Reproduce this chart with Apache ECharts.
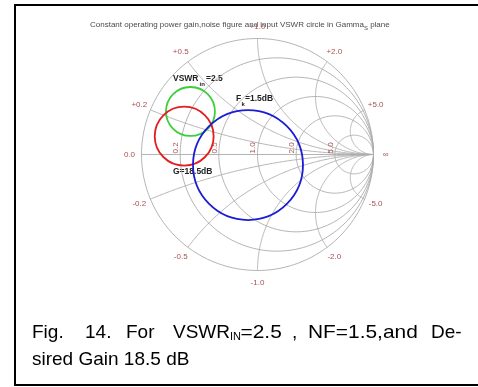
<!DOCTYPE html>
<html><head><meta charset="utf-8">
<script src="https://cdn.jsdelivr.net/npm/echarts@6/dist/echarts.min.js"></script>
<style>html,body{margin:0;padding:0;background:#fff}#c{width:478px;height:387px}</style>
</head><body><div id="c"></div>
<script>
// Smith chart grid values
const resistanceCircles = [0.2, 0.5, 1, 2, 5];
const reactanceArcs = [0.2, 0.5, 1, 2, 5, -0.2, -0.5, -1, -2, -5];
const resistanceTickValues = [0.2, 0.5, 1, 2, 5];
const resistanceTickLabels = ['0.2', '0.5', '1.0', '2.0', '5.0'];
const reactanceTickValues = [0.2, 0.5, 1, 2, 5, -0.2, -0.5, -1, -2, -5];
const reactanceTickLabels = ['+0.2', '+0.5', '+1.0', '+2.0', '+5.0', '-0.2', '-0.5', '-1.0', '-2.0', '-5.0'];
const edgeTickValues = [-1, 1];
const edgeTickLabels = ['0.0', '\u221e'];
// Constant circles in the Gamma_S plane (centre re, centre im, radius)
const circleNames = ['VSWR_in=2.5', 'G=18.5dB', 'F_k=1.5dB'];
const circleCenterRe = [-0.578, -0.632, -0.082];
const circleCenterIm = [0.371, 0.158, -0.091];
const circleRadius = [0.211, 0.254, 0.474];
const circleColors = ['#3ccf3c', '#e11f1f', '#1c1cd2'];

const GRID = '#ababab';
const LABEL = '#a65050';
const SANS = '"Liberation Sans", Arial, sans-serif';

const mctx = document.createElement('canvas').getContext('2d');
function tw(text, font) { mctx.font = font; return mctx.measureText(text).width; }

function resistancePts(r) {
  const c = r / (r + 1), R = 1 / (r + 1), pts = [];
  for (let i = 0; i <= 180; i++) { const t = 2 * Math.PI * i / 180; pts.push([c + R * Math.cos(t), R * Math.sin(t)]); }
  return pts;
}
function reactancePts(x) {
  const a = Math.abs(x), R = 1 / a, pts = [];
  let t0 = Math.atan2((a * a - 1) / (a * (a * a + 1)), -2 / (a * a + 1));
  if (t0 < 0) t0 += 2 * Math.PI;
  const t1 = 1.5 * Math.PI;
  for (let i = 0; i <= 180; i++) {
    const t = t0 + (t1 - t0) * i / 180;
    const py = R + R * Math.sin(t);
    pts.push([1 + R * Math.cos(t), x > 0 ? py : -py]);
  }
  return pts;
}
const gridLines = [];
gridLines.push(resistancePts(0)); // outer circle
resistanceCircles.forEach(r => gridLines.push(resistancePts(r)));
reactanceArcs.forEach(x => gridLines.push(reactancePts(x)));
gridLines.push([[-1, 0], [1, 0]]);

function gammaOfReactance(x) { return [(x * x - 1) / (x * x + 1), 2 * x / (x * x + 1)]; }
const outerLabels = [];
reactanceTickValues.forEach((x, i) => outerLabels.push({ g: gammaOfReactance(x), t: reactanceTickLabels[i] }));
edgeTickValues.forEach((v, i) => outerLabels.push({ g: [v, 0], t: edgeTickLabels[i] }));

// title pieces
const tFont = '8px ' + SANS, tSubFont = '6px ' + SANS;
const titleMain = 'Constant operating power gain,noise figure and input VSWR circle in Gamma';
const tx0 = 90, tw1 = tw(titleMain, tFont), tw2 = tw('S', tSubFont);

function txt(x, y, text, font, fill, extra) {
  return Object.assign({ type: 'text', x: x, y: y, style: { text: text, font: font, fill: fill, verticalAlign: 'middle' } }, extra || {});
}
const CAP = '19px ' + SANS, CAPSUB = '11px ' + SANS;
const B = 'bold 8.5px ' + SANS, BS = 'bold 6px ' + SANS;

const chart = echarts.init(document.getElementById('c'), null, { renderer: 'canvas' });
chart.setOption({
  animation: false,
  backgroundColor: '#fff',
  grid: { left: 141.5, top: 38.5, width: 232, height: 232 },
  xAxis: { type: 'value', min: -1, max: 1, show: false },
  yAxis: { type: 'value', min: -1, max: 1, show: false },
  series: [
    {
      type: 'custom', silent: true, clip: false,
      data: gridLines.map((_, i) => [0, 0, i]),
      encode: { x: 0, y: 1 },
      renderItem: (p, api) => {
        const pts = gridLines[api.value(2)].map(q => api.coord(q));
        return { type: 'polyline', shape: { points: pts }, style: { stroke: GRID, fill: null, lineWidth: 0.9 } };
      }
    },
    {
      type: 'custom', silent: true, clip: false,
      data: resistanceTickValues.map((r, i) => [(r - 1) / (r + 1), 0, i]),
      encode: { x: 0, y: 1 },
      renderItem: (p, api) => {
        const c = api.coord([api.value(0), api.value(1)]);
        return { type: 'text', x: c[0] - 0.5, y: c[1] - 1, rotation: Math.PI / 2,
          style: { text: resistanceTickLabels[api.value(2)], fill: LABEL, font: '8px ' + SANS, align: 'left', verticalAlign: 'bottom' } };
      }
    },
    {
      type: 'custom', silent: true, clip: false,
      data: outerLabels.map((o, i) => [o.g[0], o.g[1], i]),
      encode: { x: 0, y: 1 },
      renderItem: (p, api) => {
        const s = 128 / 116;
        const c = api.coord([api.value(0) * s, api.value(1) * s]);
        return { type: 'text', x: c[0], y: c[1],
          style: { text: outerLabels[api.value(2)].t, fill: LABEL, font: '8px ' + SANS, align: 'center', verticalAlign: 'middle' } };
      }
    },
    {
      type: 'custom', silent: true, clip: false,
      data: circleNames.map((n, i) => [circleCenterRe[i], circleCenterIm[i], circleRadius[i], i]),
      encode: { x: 0, y: 1 },
      renderItem: (p, api) => {
        const c = api.coord([api.value(0), api.value(1)]);
        const r = api.size([api.value(2), 0])[0];
        return { type: 'circle', shape: { cx: c[0], cy: c[1], r: r },
          style: { stroke: circleColors[api.value(3)], fill: null, lineWidth: 1.8 } };
      }
    }
  ],
  graphic: [
    { type: 'rect', shape: { x: 15, y: 5, width: 470, height: 380 }, style: { stroke: '#000', lineWidth: 2, fill: null }, z: 10 },
    txt(tx0, 25, titleMain, tFont, '#4a4a4a'),
    txt(tx0 + tw1, 28, 'S', tSubFont, '#4a4a4a'),
    txt(tx0 + tw1 + tw2, 25, ' plane', tFont, '#4a4a4a'),
    // data annotations
    txt(173, 79, 'VSWR', B, '#222'),
    txt(199.5, 84, 'in', BS, '#222'),
    txt(206, 79, '=2.5', B, '#222'),
    txt(236, 99, 'F', B, '#222'),
    txt(241.5, 104, 'k', BS, '#222'),
    txt(245, 99, '=1.5dB', B, '#222'),
    txt(173, 171.5, 'G=18.5dB', B, '#222'),
    // caption
    txt(32, 333, 'Fig.', CAP, '#000'),
    txt(85, 333, '14.', CAP, '#000'),
    txt(126, 333, 'For', CAP, '#000'),
    txt(173, 333, 'VSWR', CAP, '#000'),
    txt(230, 336.5, 'IN', CAPSUB, '#000'),
    txt(240.5, 333, '=2.5', CAP, '#000', { scaleX: 1.1 }),
    txt(292, 333, ',', CAP, '#000'),
    txt(308, 333, 'NF=1.5,and', CAP, '#000', { scaleX: 1.1 }),
    txt(431, 333, 'De-', CAP, '#000'),
    txt(32, 360, 'sired Gain 18.5 dB', CAP, '#000')
  ]
});
</script></body></html>
